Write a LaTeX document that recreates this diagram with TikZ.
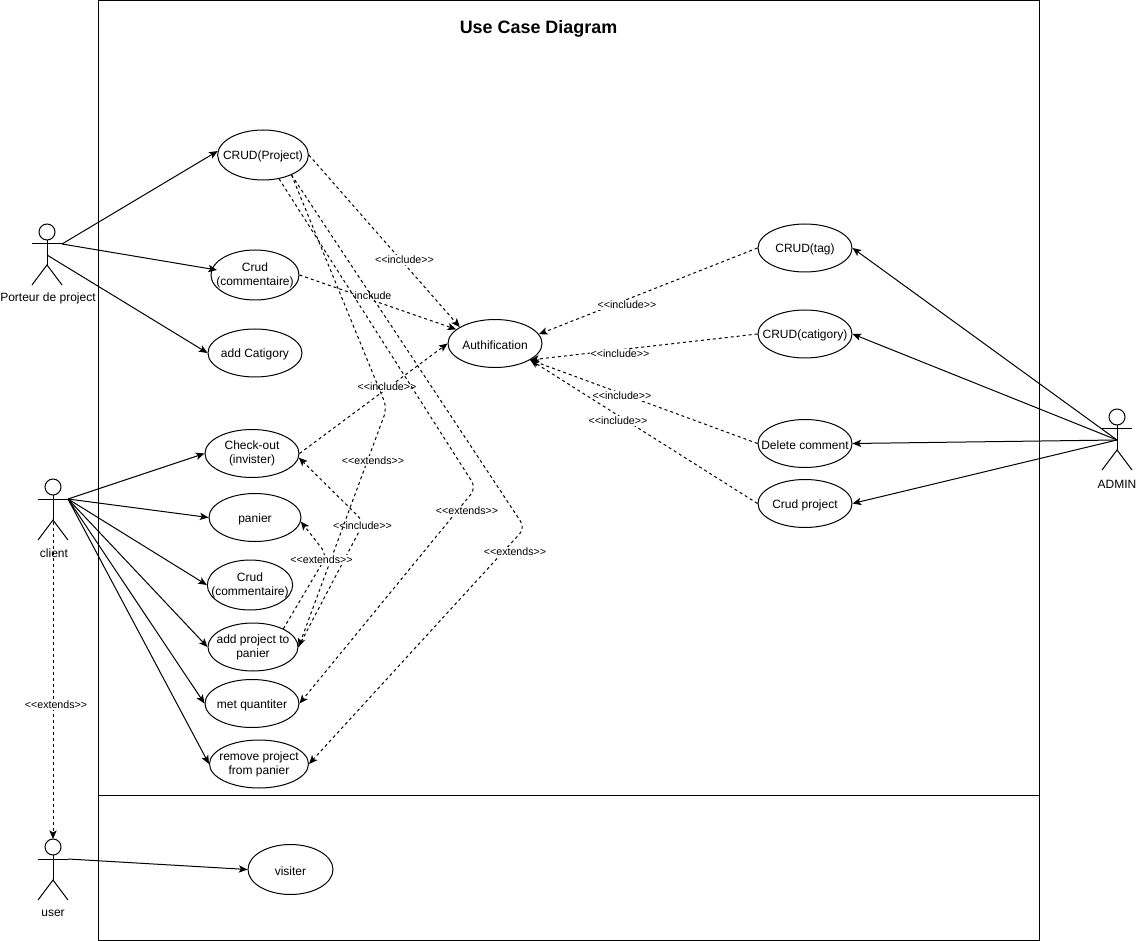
\documentclass[tikz,border=0pt]{standalone}
\usepackage{fontspec}
\setmainfont{Liberation Sans}
\usepackage{tikz}
\usetikzlibrary{arrows.meta}
\usetikzlibrary{shapes.geometric}
\tikzset{>={Stealth[length=6.5pt,width=5.5pt,inset=1.6pt]}}
\tikzset{every picture/.style={x=0.75pt,y=-0.75pt,line width=0.75pt}}
\tikzset{usecase/.style={ellipse,draw,inner xsep=-30pt,inner ysep=-12pt,minimum width=70.5pt,minimum height=36pt,align=center,font=\fontsize{9pt}{10.5pt}\selectfont,execute at begin node={\rule{0pt}{9pt}}}}
\tikzset{twolines/.style={execute at begin node={\rule{0pt}{11pt}}}}
\tikzset{boxlabel/.style={fill=white,inner sep=0.8pt,yshift=-0.75pt,font=\fontsize{8pt}{9pt}\selectfont}}
\tikzset{actorlabel/.style={inner sep=0pt,yshift=-0.75pt,font=\fontsize{9pt}{10.5pt}\selectfont}}
\tikzset{dep/.style={->,dash pattern=on 2.25pt off 2.25pt}}
\tikzset{actor/.pic={
    \draw (0,0) circle (8);
    \draw (0,8) -- (0,33);
    \draw (-15,12) -- (15,12);
    \draw (-15,53) -- (0,33) -- (15,53);
    \coordinate (-arm) at (15,12);
    \coordinate (-mid) at (0,23);
    \coordinate (-top) at (0,-8);
}}

\begin{document}
\begin{tikzpicture}
    \useasboundingbox (0,0) rectangle (1136,941);

    \node [draw, minimum width=705.75pt, minimum height=596.25pt, inner sep=0pt, anchor=north west] (system) at (98,0) {};
    \node [draw, minimum width=705.75pt, minimum height=108.75pt, inner sep=0pt, anchor=north west] (visitor) at (98,795) {};
    \node [inner sep=0pt, font=\bfseries\fontsize{13.45pt}{15pt}\selectfont] (title) at (538.5,29) {Use Case Diagram};

    \node [usecase, minimum width=68pt, minimum height=37.5pt] (crudproject) at (263,155) {CRUD(Project)};
    \node [usecase, twolines, minimum width=66pt, minimum height=37.5pt] (crudcomment) at (255,275) {Crud\\(commentaire)};
    \node [usecase] (addcatigory) at (255,353) {add Catigory};
    \node [usecase] (auth) at (495,343.5) {Authification};
    \node [usecase] (crudtag) at (805,248) {CRUD(tag)};
    \node [usecase] (crudcatigory) at (805,334) {CRUD(catigory)};
    \node [usecase] (deletecomment) at (805,443.5) {Delete comment};
    \node [usecase] (adminproject) at (805,503.5) {Crud project};
    \node [usecase, twolines] (checkout) at (252,453.5) {Check-out\\(invister)};
    \node [usecase, minimum width=69pt] (panier) at (255,517.5) {panier};
    \node [usecase, twolines, minimum width=64pt, minimum height=37.5pt] (clientcomment) at (250,585) {Crud\\(commentaire)};
    \node [usecase, twolines, minimum width=67.5pt] (addpanier) at (253,647) {add project to\\panier};
    \node [usecase] (quantiter) at (252,703.5) {met quantiter};
    \node [usecase, twolines, minimum width=74.25pt] (removepanier) at (259,764) {remove project\\from panier};
    \node [usecase, minimum width=63.75pt, minimum height=37.5pt] (visiter) at (290.5,869.5) {visiter};

    \pic (porteur) at (47,232) {actor};
    \pic (client) at (53,487) {actor};
    \pic (user) at (53,847) {actor};
    \pic (admin) at (1117,417) {actor};

    \node [actorlabel] (porteurlabel) at (48,297) {Porteur de project};
    \node [actorlabel] (clientlabel) at (54,552) {client};
    \node [actorlabel] (userlabel) at (53,912) {user};
    \node [actorlabel] (adminlabel) at (1117,483) {ADMIN};

    \coordinate (commentin) at (217,270);
    \coordinate (bendcheckout) at (364,522);
    \coordinate (bendpanier) at (327,555);
    \coordinate (bendadd) at (387,408);
    \coordinate (bendquantiter) at (476,488);
    \coordinate (bendremove) at (525,528);

    \draw[->] (porteur-arm) -- (crudproject.175);
    \draw[->] (porteur-arm) -- (commentin);
    \draw[->] (porteur-mid) -- (addcatigory.west);
    \draw[->] (client-arm) -- (checkout.west);
    \draw[->] (client-arm) -- (panier.west);
    \draw[->] (client-arm) -- (clientcomment.west);
    \draw[->] (client-arm) -- (addpanier.west);
    \draw[->] (client-arm) -- (quantiter.west);
    \draw[->] (client-arm) -- (removepanier.west);
    \draw[->] (user-arm) -- (visiter.west);
    \draw[->] (admin-mid) -- (crudtag.east);
    \draw[->] (admin-mid) -- (crudcatigory.east);
    \draw[->] (admin-mid) -- (deletecomment.east);
    \draw[->] (admin-mid) -- (adminproject.east);

    \draw[dep] (client-mid) -- (user-top);
    \node [boxlabel] (userextends) at (56,704) {<{}<extends>{}>};

    \draw[dep] (crudproject.east) -- (auth.155);
    \node [boxlabel] (projectinclude) at (404.5,259) {<{}<include>{}>};
    \draw[dep] (crudcomment.east) -- (auth.160);
    \node [boxlabel] (commentinclude) at (373,295) {inckude};
    \draw[dep] (checkout.east) -- (auth.west);
    \node [boxlabel] (checkoutinclude) at (387,386) {<{}<include>{}>};
    \draw[dep] (crudtag.west) -- (auth.12);
    \node [boxlabel] (taginclude) at (627,304) {<{}<include>{}>};
    \draw[dep] (crudcatigory.west) -- (auth.-25);
    \node [boxlabel] (catigoryinclude) at (620,353) {<{}<include>{}>};
    \draw[dep] (deletecomment.west) -- (auth.-25);
    \node [boxlabel] (deleteinclude) at (622,395) {<{}<include>{}>};
    \draw[dep] (adminproject.west) -- (auth.-25);
    \node [boxlabel] (admininclude) at (618,420) {<{}<include>{}>};

    \draw[dep, rounded corners=6pt] (addpanier.east) -- (bendcheckout) -- (checkout.-5);
    \node [boxlabel] (addinclude) at (362.5,525) {<{}<include>{}>};

    \draw[dep, rounded corners=6pt] (crudproject.-35) -- (bendadd) -- (addpanier.east);
    \node [boxlabel] (addextends) at (373,460) {<{}<extends>{}>};
    \draw[dep, rounded corners=6pt] (crudproject.-56) -- (bendquantiter) -- (quantiter.east);
    \node [boxlabel] (quantiterextends) at (467,510) {<{}<extends>{}>};
    \draw[dep, rounded corners=6pt] (crudproject.-35) -- (bendremove) -- (removepanier.east);
    \node [boxlabel] (removeextends) at (515,551) {<{}<extends>{}>};

    \draw[dep, rounded corners=6pt] (addpanier.31) -- (bendpanier) -- (panier.-5);
    \node [boxlabel] (panierextends) at (321.5,559) {<{}<extends>{}>};
\end{tikzpicture}
\end{document}
